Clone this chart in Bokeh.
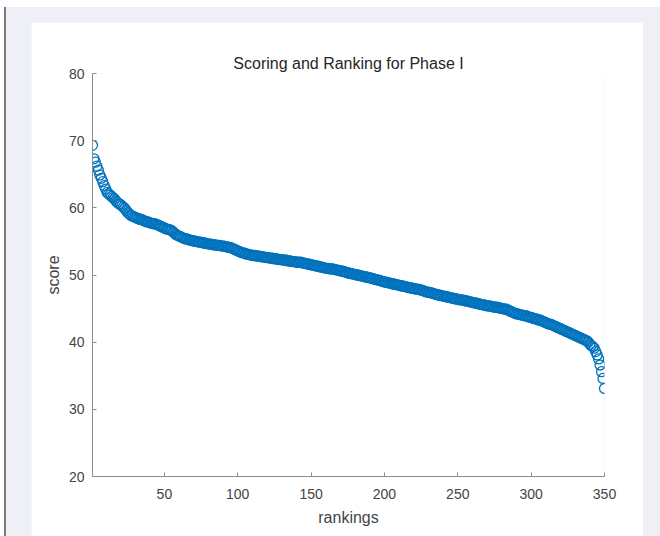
from bokeh.plotting import figure
from bokeh.models import Range1d, FixedTicker
from bokeh.layouts import column
from bokeh.embed import file_html
from bokeh.resources import INLINE

# Ranked scores, best first (rank 1 .. 350)
scores = [
    69.3, 67.3, 66.8, 66.2, 65.6, 64.9, 64.4, 63.9, 63.3, 62.8,
    62.3, 62.1, 61.9, 61.7, 61.5, 61.3, 61.0, 60.8, 60.6, 60.5,
    60.3, 60.1, 59.9, 59.6, 59.3, 59.1, 58.9, 58.8, 58.7, 58.6,
    58.5, 58.4, 58.3, 58.3, 58.2, 58.1, 58.0, 57.9, 57.9, 57.8,
    57.7, 57.7, 57.6, 57.6, 57.5, 57.4, 57.3, 57.2, 57.1, 57.0,
    56.9, 56.8, 56.8, 56.7, 56.6, 56.4, 56.2, 56.0, 55.9, 55.8,
    55.7, 55.6, 55.5, 55.4, 55.4, 55.3, 55.2, 55.2, 55.1, 55.1,
    55.0, 55.0, 54.9, 54.9, 54.9, 54.8, 54.8, 54.7, 54.7, 54.6,
    54.6, 54.6, 54.5, 54.5, 54.5, 54.4, 54.4, 54.4, 54.3, 54.3,
    54.3, 54.2, 54.2, 54.1, 54.1, 54.0, 53.9, 53.8, 53.7, 53.6,
    53.5, 53.4, 53.3, 53.3, 53.2, 53.1, 53.1, 53.0, 53.0, 52.9,
    52.9, 52.9, 52.8, 52.8, 52.8, 52.7, 52.7, 52.7, 52.6, 52.6,
    52.6, 52.5, 52.5, 52.5, 52.4, 52.4, 52.4, 52.3, 52.3, 52.3,
    52.2, 52.2, 52.2, 52.1, 52.1, 52.1, 52.0, 52.0, 52.0, 51.9,
    51.9, 51.9, 51.9, 51.8, 51.8, 51.7, 51.7, 51.6, 51.6, 51.5,
    51.5, 51.4, 51.4, 51.3, 51.3, 51.2, 51.2, 51.1, 51.1, 51.0,
    51.0, 51.0, 50.9, 50.9, 50.9, 50.8, 50.8, 50.7, 50.7, 50.6,
    50.6, 50.5, 50.5, 50.4, 50.3, 50.3, 50.2, 50.2, 50.1, 50.1,
    50.0, 50.0, 49.9, 49.9, 49.8, 49.8, 49.7, 49.7, 49.6, 49.6,
    49.5, 49.5, 49.4, 49.3, 49.3, 49.2, 49.2, 49.1, 49.0, 49.0,
    48.9, 48.9, 48.8, 48.8, 48.7, 48.7, 48.6, 48.6, 48.5, 48.5,
    48.4, 48.4, 48.3, 48.3, 48.2, 48.2, 48.1, 48.1, 48.0, 48.0,
    47.9, 47.9, 47.9, 47.8, 47.8, 47.7, 47.6, 47.5, 47.5, 47.4,
    47.4, 47.3, 47.3, 47.2, 47.1, 47.1, 47.0, 47.0, 46.9, 46.9,
    46.8, 46.8, 46.7, 46.7, 46.6, 46.6, 46.5, 46.5, 46.4, 46.4,
    46.3, 46.3, 46.3, 46.2, 46.2, 46.1, 46.1, 46.0, 46.0, 45.9,
    45.9, 45.8, 45.8, 45.7, 45.7, 45.6, 45.6, 45.5, 45.5, 45.4,
    45.4, 45.4, 45.3, 45.3, 45.2, 45.2, 45.2, 45.1, 45.1, 45.0,
    45.0, 44.9, 44.9, 44.8, 44.7, 44.6, 44.5, 44.4, 44.3, 44.2,
    44.2, 44.1, 44.1, 44.0, 44.0, 43.9, 43.9, 43.8, 43.7, 43.7,
    43.6, 43.5, 43.5, 43.4, 43.3, 43.3, 43.2, 43.1, 43.0, 42.9,
    42.8, 42.7, 42.7, 42.6, 42.5, 42.4, 42.3, 42.2, 42.1, 42.0,
    41.9, 41.8, 41.7, 41.6, 41.5, 41.4, 41.3, 41.2, 41.1, 41.0,
    40.9, 40.8, 40.7, 40.6, 40.5, 40.4, 40.3, 40.2, 40.0, 39.7,
    39.5, 39.3, 39.1, 38.6, 38.1, 37.5, 36.6, 35.6, 34.6, 33.1,
]
rankings = list(range(1, len(scores) + 1))

x_ticks = [50, 100, 150, 200, 250, 300, 350]
y_ticks = [20, 30, 40, 50, 60, 70, 80]

FONT = "Liberation Sans"
TEXT = "#444444"
AXIS = "#8c8c8c"
MARKER = "#0072BD"

p = figure(
    width=612, height=514,
    output_backend="svg", toolbar_location=None,
    x_range=Range1d(1, 350), y_range=Range1d(20, 80),
    min_border_left=61, min_border_right=39,
    min_border_top=51, min_border_bottom=60,
    title="Scoring and Ranking for Phase I",
)
p.background_fill_color = "white"
p.border_fill_color = "white"
p.outline_line_color = None
p.grid.visible = False

p.title.align = "center"
p.title.text_font = FONT
p.title.text_font_size = "16px"
p.title.text_font_style = "normal"
p.title.text_color = "#262626"
p.title.standoff = 3

p.scatter(rankings, scores, marker="circle", size=10,
          fill_color=None, line_color=MARKER, line_width=1.3)

for ax in (p.xaxis[0], p.yaxis[0]):
    ax.axis_line_color = AXIS
    ax.axis_line_width = 1
    ax.major_tick_line_color = AXIS
    ax.major_tick_in = 4
    ax.major_tick_out = 0
    ax.minor_tick_line_color = None
    ax.major_label_text_font = FONT
    ax.major_label_text_font_size = "14px"
    ax.major_label_text_color = TEXT
    ax.axis_label_text_font = FONT
    ax.axis_label_text_font_size = "16px"
    ax.axis_label_text_font_style = "normal"
    ax.axis_label_text_color = TEXT

p.xaxis.ticker = FixedTicker(ticks=x_ticks)
p.yaxis.ticker = FixedTicker(ticks=y_ticks)
p.xaxis.axis_label = "rankings"
p.yaxis.axis_label = "score"
p.xaxis.major_label_standoff = 12
p.yaxis.major_label_standoff = 8
p.xaxis.axis_label_standoff = 7
p.yaxis.axis_label_standoff = 4

page = column(p, styles={
    "background-color": "#eff0f5",
    "padding": "15px 17px 0px 25px",
    "border-left": "2px solid #7a7a7a",
    "margin-top": "7px",
    "margin-left": "4px",
})

with open("out.html", "w") as f:
    f.write(file_html(page, INLINE))
